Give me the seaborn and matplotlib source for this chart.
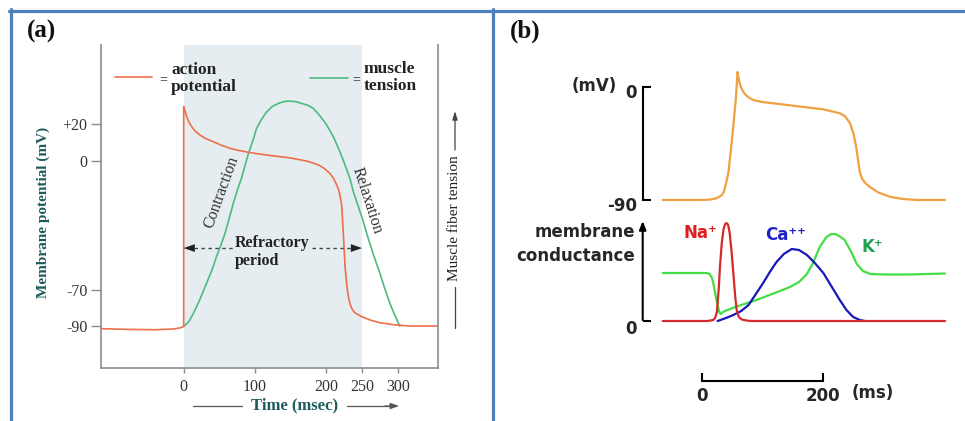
import matplotlib
matplotlib.use('Agg')
import matplotlib.pyplot as plt
import seaborn as sns
from matplotlib.lines import Line2D
from matplotlib.transforms import ScaledTranslation

# ---------------- panel (a) data ----------------
a_ap_t = [-116, -80, -40, -15, -5, 0, 0, 2, 4.2, 7.5, 11.2, 16, 23, 31, 41.5, 53, 65, 78,
          90.6, 103, 116.4, 130, 144.4, 158, 172.4, 182, 191, 198, 205, 210, 214.5, 217, 219,
          221.5, 223.8, 226.2, 228.5, 230.8, 233, 235.5, 240, 249.5, 262, 275, 295, 317, 340,
          356]
a_ap_v = [-91.2, -91.6, -91.8, -91.4, -90.8, -90, 29.5, 27, 24, 21, 18.6, 16.2, 14, 12.1,
          10.4, 8.5, 6.8, 5.6, 4.7, 3.9, 3.2, 2.5, 1.9, 1.0, -0.1, -1.2, -2.6, -4.4, -6.8,
          -9.5, -13.1, -15.5, -18.6, -24, -39.4, -57.5, -67, -73.8, -77.5, -80.2, -82.6,
          -84.7, -86.6, -88, -89.1, -89.8, -89.8, -89.8]
a_ten_t = [0, 7, 13.5, 22, 32, 40, 46, 52, 58, 64, 70, 76, 81, 86, 91, 97, 102, 109, 116,
           124, 133, 141, 149, 158, 165, 170, 176, 182, 191, 200, 210, 219, 226, 233, 238,
           245, 251, 257, 266, 275, 282, 289, 296, 303]
a_ten_v = [-90, -87.5, -83, -76, -66.6, -59, -52, -46, -39.4, -31, -22.5, -15, -9.5, -2.5,
           4.3, 11, 17.5, 22.5, 26.5, 29.5, 31.3, 32.3, 32.5, 32.1, 31.3, 30.7, 29.9, 28.4,
           24.5, 19.8, 13, 5, -2, -9.5, -17, -25, -32, -40, -51, -61, -69.5, -77.4, -84,
           -89.8]
a_xticks = [0, 100, 200, 250, 300]
a_yticks = [20, 0, -70, -90]
a_ytick_labels = ['+20', '0', '-70', '-90']
refractory = [0, 250]

# ---------------- panel (b) data ----------------
b_ap_t = [-64, 0, 10, 16, 25, 32, 36, 40, 44, 48, 52, 56, 59, 61, 63, 66, 70, 76, 85, 100,
          118, 140, 172, 200, 227, 236, 244, 250, 254, 257, 260, 264, 270, 277, 290, 310,
          330, 353, 400]
b_ap_v = [-90, -90, -89.8, -89.5, -88.5, -86.5, -84, -77, -68, -50, -31, -10, 12, 6, 2, -2,
          -5, -8, -10.4, -12, -13, -14.3, -16.2, -17.8, -20.9, -23.5, -29, -38, -48, -58,
          -68, -73.5, -77, -79.8, -84, -87.5, -89.2, -90, -90]
b_na_t = [-64, 10, 19, 22, 25, 28, 30, 33, 36, 38.5, 41, 43.5, 46, 49, 52, 55, 57.5, 61, 66,
          75, 85, 400]
b_na_g = [0, 0, 0.01, 0.03, 0.09, 0.32, 0.54, 0.78, 0.92, 0.97, 0.98, 0.96, 0.88, 0.7, 0.48,
          0.25, 0.11, 0.04, 0.015, 0.003, 0, 0]
b_ca_t = [26, 40, 52, 65, 77, 88, 101, 112, 123, 135, 148, 160, 173, 186, 200, 213, 227, 238,
          249, 260, 268]
b_ca_g = [0, 0.03, 0.06, 0.1, 0.16, 0.26, 0.38, 0.49, 0.59, 0.67, 0.72, 0.71, 0.66, 0.58,
          0.48, 0.35, 0.21, 0.11, 0.04, 0.01, 0]
b_k_t = [-64, 8, 13, 17, 20, 23, 26, 29, 31, 36, 60, 90, 120, 145, 160, 173, 183, 194, 205,
         213, 219, 226, 235, 245, 255, 265, 277, 300, 340, 400]
b_k_g = [0.48, 0.48, 0.47, 0.43, 0.35, 0.25, 0.16, 0.09, 0.07, 0.095, 0.15, 0.21, 0.28, 0.34,
         0.39, 0.47, 0.58, 0.74, 0.84, 0.87, 0.87, 0.85, 0.81, 0.7, 0.57, 0.5, 0.47, 0.465,
         0.465, 0.475]
b_mv_ticks = [0, -90]
b_scale_ticks = [0, 200]

# ---------------- styling ----------------
W, H = 965, 421
sns.set_style('white')
plt.rcParams['font.family'] = ['Liberation Serif', 'DejaVu Serif']

AP_A = '#ef6e4c'
TEN_A = '#4cbb7e'
SHADE = '#e6edf1'
TEAL = '#1d5a5c'
BORDER = '#4f81bd'
AP_B = '#f0a040'
NA_C, CA_C, K_C = '#d42a2a', '#1818b8', '#44dd44'

fig = plt.figure(figsize=(W / 100, H / 100), dpi=100)


def rect(l, t, r, b):
    return [l / W, 1 - b / H, (r - l) / W, (b - t) / H]


def ftext(x, y, s, **kw):
    fig.text(x / W, 1 - y / H, s, **kw)


def fpx(x, y):
    return (x, H - y)


# ---------------- panel (a) ----------------
axA = fig.add_axes(rect(101, 45, 438, 368))
axA.set_xlim(-115.9, 356.5)
axA.set_ylim(-112.6, 63)
axA.axvspan(refractory[0], refractory[1], color=SHADE, lw=0, zorder=0)
sns.lineplot(x=a_ten_t, y=a_ten_v, ax=axA, color=TEN_A, lw=1.2, sort=False, estimator=None)
sns.lineplot(x=a_ap_t, y=a_ap_v, ax=axA, color=AP_A, lw=1.2, sort=False, estimator=None)
axA.grid(False)
axA.spines['top'].set_visible(False)
for s in ['left', 'bottom', 'right']:
    axA.spines[s].set_color('#8c8c8c')
    axA.spines[s].set_linewidth(1.2)
axA.set_xticks(a_xticks)
axA.set_xticklabels([str(v) for v in a_xticks])
axA.set_yticks(a_yticks)
axA.set_yticklabels(a_ytick_labels)
axA.tick_params(axis='y', left=True, length=7.2, width=1, color='#8c8c8c', pad=2.5,
                labelsize=11.5, labelcolor='#333333')
axA.tick_params(axis='x', bottom=True, length=3.6, width=1, color='#8c8c8c', pad=4,
                labelsize=11.5, labelcolor='#333333')
axA.set_xlabel('')
axA.set_ylabel('')

# legend
axA.plot([-96.3, -44.4], [45.6, 45.6], color=AP_A, lw=1.2)
axA.text(-29, 44.3, '=', ha='center', va='center', fontsize=10, color='#333')
axA.text(-17.5, 44.8, 'action\npotential', ha='left', va='center', fontsize=12.5,
         fontweight='bold', color='#222', linespacing=1.05)
axA.plot([177, 230.2], [45, 45], color=TEN_A, lw=1.2)
axA.text(241.5, 44.3, '=', ha='center', va='center', fontsize=10, color='#333')
axA.text(252.5, 45.2, 'muscle\ntension', ha='left', va='center', fontsize=12.5,
         fontweight='bold', color='#222', linespacing=1.05)

axA.text(53.4, -16.9, 'Contraction', rotation=70, rotation_mode='anchor', ha='center',
         va='center', fontsize=11.5, color='#333')
axA.text(256.6, -21.7, 'Relaxation', rotation=-72, rotation_mode='anchor', ha='center',
         va='center', fontsize=11.5, color='#333')

# refractory arrow
yr = -47.4
axA.plot([14, 236], [yr, yr], ls=(0, (2.5, 2.5)), color='#444', lw=1)
axA.annotate('', xy=(refractory[0], yr), xytext=(refractory[0] + 17, yr),
             arrowprops=dict(arrowstyle='-|>,head_length=0.8,head_width=0.28', color='#222',
                             lw=0.01, shrinkA=0, shrinkB=0))
axA.annotate('', xy=(refractory[1], yr), xytext=(refractory[1] - 17, yr),
             arrowprops=dict(arrowstyle='-|>,head_length=0.8,head_width=0.28', color='#222',
                             lw=0.01, shrinkA=0, shrinkB=0))
axA.text(72, -44.8, 'Refractory', ha='left', va='center', fontsize=11.5, fontweight='bold',
         color='#222', bbox=dict(facecolor=SHADE, edgecolor='none', pad=0.5))
axA.text(72, -54.4, 'period', ha='left', va='center', fontsize=11.5, fontweight='bold',
         color='#222')

# outer labels of (a)
ftext(43, 212, 'Membrane potential (mV)', rotation=90, ha='center', va='center',
      fontsize=11, fontweight='bold', color=TEAL)
ftext(295, 405, 'Time (msec)', ha='center', va='center', fontsize=12, fontweight='bold',
      color=TEAL)
fig.add_artist(Line2D([193 / W, 242 / W], [1 - 406 / H] * 2, transform=fig.transFigure,
                      color='#555', lw=0.9))
fig.add_artist(Line2D([347 / W, 390 / W], [1 - 406 / H] * 2, transform=fig.transFigure,
                      color='#555', lw=0.9))
axA.annotate('', xy=fpx(399, 406), xytext=fpx(385, 406), xycoords='figure pixels',
             textcoords='figure pixels', annotation_clip=False,
             arrowprops=dict(arrowstyle='-|>,head_length=0.5,head_width=0.18', color='#555',
                             lw=0.9, shrinkA=0, shrinkB=0))
ftext(455, 218, 'Muscle fiber tension', rotation=90, ha='center', va='center', fontsize=11,
      color='#222')
fig.add_artist(Line2D([455 / W] * 2, [1 - 328 / H, 1 - 287 / H], transform=fig.transFigure,
                      color='#444', lw=0.9))
axA.annotate('', xy=fpx(455, 111), xytext=fpx(455, 150), xycoords='figure pixels',
             textcoords='figure pixels', annotation_clip=False,
             arrowprops=dict(arrowstyle='-|>,head_length=0.5,head_width=0.15', color='#444',
                             lw=0.9, shrinkA=0, shrinkB=0))
ftext(41.7, 31.5, '(a)', ha='center', va='center', fontsize=18, fontweight='bold',
      color='#111')

# ---------------- panel (b) ----------------
SANS = ['DejaVu Sans']
bold_sans = dict(family=SANS, fontweight='bold', fontsize=12)

axU = fig.add_axes(rect(642.7, 60, 950, 206))
axU.set_xlim(-97, 408.2)
axU.set_ylim(-94.8, 21.5)
sns.lineplot(x=b_ap_t, y=b_ap_v, ax=axU, color=AP_B, lw=1.6, sort=False, estimator=None)
axU.grid(False)
for s in ['top', 'right', 'bottom']:
    axU.spines[s].set_visible(False)
axU.spines['left'].set_bounds(-90, 0)
axU.spines['left'].set_color('black')
axU.spines['left'].set_linewidth(1.5)
axU.set_xticks([])
axU.set_yticks(b_mv_ticks)
axU.set_yticklabels([str(v) for v in b_mv_ticks])
axU.tick_params(axis='y', left=True, direction='in', length=5.8, width=1.5, color='black',
                pad=4, labelsize=12)
off = ScaledTranslation(0, -4 / 100, fig.dpi_scale_trans)
for lab in axU.get_yticklabels():
    lab.set_fontfamily(SANS)
    lab.set_fontweight('bold')
    lab.set_transform(lab.get_transform() + off)
axU.set_xlabel('')
axU.set_ylabel('')

axL = fig.add_axes(rect(642.7, 210, 950, 330))
axL.set_xlim(-97, 408.2)
axL.set_ylim(-0.09, 1.11)
sns.lineplot(x=b_k_t, y=b_k_g, ax=axL, color=K_C, lw=1.6, sort=False, estimator=None)
sns.lineplot(x=b_ca_t, y=b_ca_g, ax=axL, color=CA_C, lw=1.6, sort=False, estimator=None)
sns.lineplot(x=b_na_t, y=b_na_g, ax=axL, color=NA_C, lw=1.6, sort=False, estimator=None)
axL.grid(False)
for s in ['top', 'right', 'left']:
    axL.spines[s].set_visible(False)
axL.spines['bottom'].set_position(('outward', 36.7))
axL.spines['bottom'].set_bounds(b_scale_ticks[0], b_scale_ticks[1])
axL.spines['bottom'].set_color('black')
axL.spines['bottom'].set_linewidth(1.5)
axL.set_xticks(b_scale_ticks)
axL.set_xticklabels([str(v) for v in b_scale_ticks])
axL.tick_params(axis='x', bottom=True, direction='in', length=5.8, width=1.5, color='black',
                pad=4, labelsize=12)
axL.set_yticks([0])
axL.set_yticklabels(['0'])
axL.tick_params(axis='y', left=True, direction='in', length=5.8, width=1.5, color='black',
                pad=4, labelsize=12)
off2 = ScaledTranslation(0, -6 / 100, fig.dpi_scale_trans)
for lab in axL.get_yticklabels():
    lab.set_fontfamily(SANS)
    lab.set_fontweight('bold')
    lab.set_transform(lab.get_transform() + off2)
for lab in axL.get_xticklabels():
    lab.set_fontfamily(SANS)
    lab.set_fontweight('bold')
axL.set_xlabel('')
axL.set_ylabel('')
axL.annotate('', xy=(0, 1.0), xytext=(0, 0.01), xycoords=('axes fraction', 'data'),
             textcoords=('axes fraction', 'data'), annotation_clip=False,
             arrowprops=dict(arrowstyle='-|>,head_length=0.5,head_width=0.2', color='black',
                             lw=1.5, shrinkA=0, shrinkB=0))

ftext(617, 86, '(mV)', ha='right', va='center', **bold_sans)
ftext(635, 232, 'membrane', ha='right', va='center', **bold_sans)
ftext(635, 256, 'conductance', ha='right', va='center', **bold_sans)
ftext(873, 393, '(ms)', ha='center', va='center', **bold_sans)
ftext(700, 233, 'Na\u207a', ha='center', va='center', color='#e02020', **bold_sans)
ftext(785.5, 235, 'Ca\u207a\u207a', ha='center', va='center', color='#2020c8', **bold_sans)
ftext(872.5, 247, 'K\u207a', ha='center', va='center', color='#20a055', **bold_sans)
ftext(525.5, 31.5, '(b)', ha='center', va='center', fontsize=18, fontweight='bold',
      color='#111')

# ---------------- frame ----------------
fig.add_artist(Line2D([9 / W, 1], [1 - 10.5 / H] * 2, transform=fig.transFigure,
                      color=BORDER, lw=2.3))
fig.add_artist(Line2D([10.5 / W] * 2, [1 - 9 / H, 0], transform=fig.transFigure,
                      color=BORDER, lw=2.3))
fig.add_artist(Line2D([492.5 / W] * 2, [1 - 9 / H, 0], transform=fig.transFigure,
                      color=BORDER, lw=2.3))

fig.savefig('out.png', dpi=100, facecolor='white')
